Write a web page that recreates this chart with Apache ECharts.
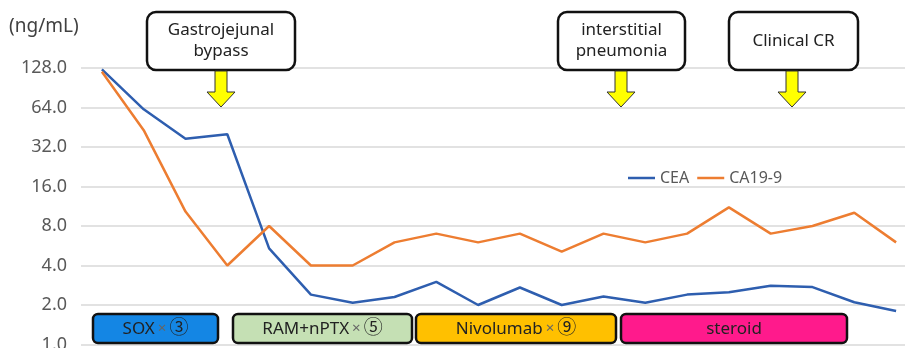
<!DOCTYPE html>
<html>
<head>
<meta charset="utf-8">
<script src="https://cdn.jsdelivr.net/npm/echarts@6/dist/echarts.min.js"></script>
<style>
html,body{margin:0;padding:0;background:#fff;}
#chart{width:905px;height:348px;}
</style>
</head>
<body>
<div id="chart"></div>
<script>
var categories = ['1','2','3','4','5','6','7','8','9','10','11','12','13','14','15','16','17','18','19','20'];
var ceaValues = [125, 62, 37, 40, 5.4, 2.4, 2.08, 2.3, 3.0, 2.0, 2.72, 2.0, 2.32, 2.08, 2.4, 2.5, 2.8, 2.74, 2.1, 1.8];
var ca199Values = [120, 43, 10.3, 4.0, 8.0, 4.0, 4.0, 6.0, 7.0, 6.0, 7.0, 5.1, 7.0, 6.0, 7.0, 11.1, 7.0, 8.0, 10.1, 6.0];
var yTicks = [1, 2, 4, 8, 16, 32, 64, 128];
var seriesNames = ['CEA', 'CA19-9'];
var events = ['Gastrojejunal\nbypass', 'interstitial\npneumonia', 'Clinical CR'];
var treatments = [['SOX', '③'], ['RAM+nPTX', '⑤'], ['Nivolumab', '⑨'], ['steroid', '']];

var chart = echarts.init(document.getElementById('chart'));
var FONT = '"Noto Sans", "Noto Sans CJK JP", sans-serif';

function eventBox(x, y, w, h, text, ax) {
  return [
    {type:'rect', shape:{x:x, y:y, width:w, height:h, r:9}, style:{fill:'#fff', stroke:'#111', lineWidth:2.5}, z:10},
    {type:'text', x:x + w/2, y:y + h/2, style:{text:text, fill:'#222', font:'17px ' + FONT, align:'center', verticalAlign:'middle', lineHeight:21}, z:11},
    {type:'polygon', shape:{points:[[ax-6,y+h+1],[ax+6,y+h+1],[ax+6,92],[ax+14,92],[ax,107],[ax-14,92],[ax-6,92]]}, style:{fill:'#FFFF00', stroke:'#333', lineWidth:1}, z:10}
  ];
}
function treatBox(x1, x2, t, fill) {
  var txt = t[1] ? '{a|' + t[0] + '}{x|×}{c|' + t[1] + '}' : '{a|' + t[0] + '}';
  return [
    {type:'rect', shape:{x:x1, y:314, width:x2-x1, height:29, r:5}, style:{fill:fill, stroke:'#111', lineWidth:2.5}, z:10},
    {type:'text', x:(x1+x2)/2, y:329, style:{text:txt, align:'center', verticalAlign:'middle',
      rich:{a:{fill:'#222', font:'17px ' + FONT}, c:{fill:'#222', font:'19px ' + FONT}, x:{fill:'#666', font:'15px ' + FONT, padding:[0,3,0,3]}}}, z:11}
  ];
}

var graphics = [
  {type:'text', left:9, top:17, style:{text:'(ng/mL)', fill:'#404040', font:'19px ' + FONT}}
].concat(
  eventBox(147, 12, 148, 58, events[0], 221),
  eventBox(558, 12, 127, 58, events[1], 621),
  eventBox(729, 12, 129, 58, events[2], 792),
  treatBox(93, 218, treatments[0], '#1486E4'),
  treatBox(233, 412, treatments[1], '#C5E0B4'),
  treatBox(416, 616, treatments[2], '#FFC000'),
  treatBox(621, 847, treatments[3], '#FF1A8C')
);

chart.setOption({
  animation: false,
  backgroundColor: '#fff',
  grid: {left: 81, right: -12, top: 68, bottom: 3.5, containLabel: false, outerBoundsMode: 'none'},
  legend: {
    data: seriesNames, left: 623, top: 165, itemWidth: 27, itemHeight: 2.5, itemGap: 8, icon: 'rect',
    textStyle: {color: '#595959', fontSize: 16, fontFamily: FONT}
  },
  xAxis: {
    type: 'category', data: categories, boundaryGap: true,
    axisLine: {show: false}, axisTick: {show: false}, axisLabel: {show: false}, splitLine: {show: false}
  },
  yAxis: {
    type: 'log', logBase: 2, min: yTicks[0], max: yTicks[yTicks.length-1],
    axisLine: {show: false}, axisTick: {show: false},
    splitLine: {show: true, lineStyle: {color: '#D9D9D9', width: 1.5}},
    axisLabel: {color: '#595959', fontSize: 18, fontFamily: FONT, margin: 14,
      formatter: function (v) { return Number(v).toFixed(1); }}
  },
  series: [
    {name: seriesNames[0], type: 'line', data: ceaValues, symbol: 'none', lineStyle: {color: '#2E5EAF', width: 2.5}, itemStyle: {color: '#2E5EAF'}},
    {name: seriesNames[1], type: 'line', data: ca199Values, symbol: 'none', lineStyle: {color: '#ED7D31', width: 2.5}, itemStyle: {color: '#ED7D31'}}
  ],
  graphic: graphics
});
</script>
</body>
</html>
